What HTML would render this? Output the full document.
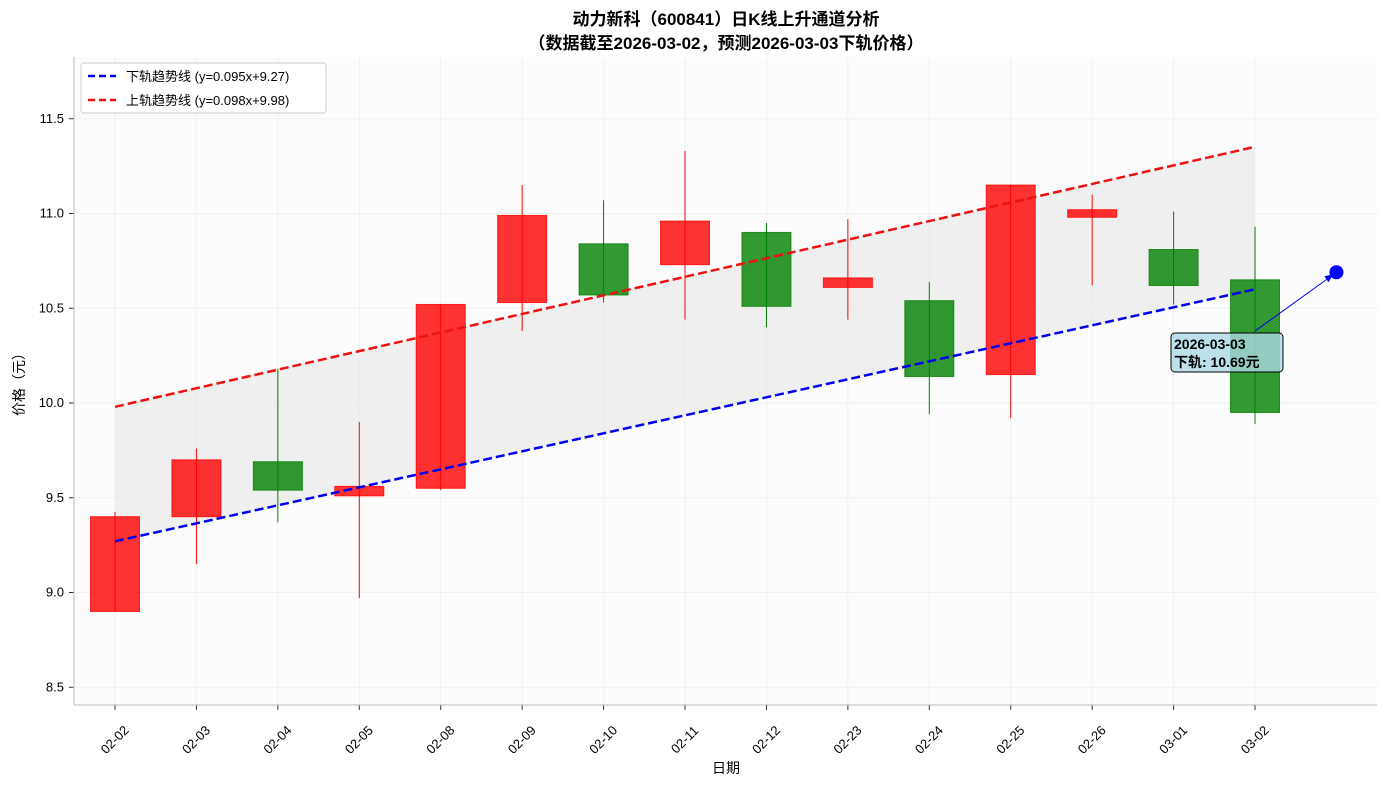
<!DOCTYPE html>
<html><head><meta charset="utf-8"><style>
body{margin:0;background:#fff;}
svg text{font-family:"Liberation Sans","Noto Sans CJK SC",sans-serif;}
</style></head><body>
<svg id="chart" width="1387" height="787" xmlns="http://www.w3.org/2000/svg">
<rect x="0" y="0" width="1387" height="787" fill="#ffffff"/>
<rect x="74" y="57" width="1303" height="648" fill="#fcfcfc"/>
<text x="726" y="25" text-anchor="middle" font-size="17" font-weight="bold">动力新科（600841）日K线上升通道分析</text>
<text x="726" y="49" text-anchor="middle" font-size="17" font-weight="bold">（数据截至2026-03-02，预测2026-03-03下轨价格）</text>
<g id="grid"></g><g id="fill"></g><g id="candles"></g><g id="lines"></g><g id="axes"></g><g id="annot"></g>
<text x="726" y="773" text-anchor="middle" font-size="14">日期</text>
<text transform="translate(24,381) rotate(-90)" text-anchor="middle" font-size="14">价格（元）</text>
<g>
<rect x="81" y="63" width="245" height="50" fill="#fff" stroke="#ccc" rx="3"/>
<line x1="88" y1="76" x2="116" y2="76" stroke="#0000ee" stroke-width="2.5" stroke-dasharray="7,4"/>
<text x="126" y="81" font-size="13">下轨趋势线 (y=0.095x+9.27)</text>
<line x1="88" y1="100" x2="116" y2="100" stroke="#ee1111" stroke-width="2.5" stroke-dasharray="7,4"/>
<text x="126" y="105" font-size="13">上轨趋势线 (y=0.098x+9.98)</text>
</g>
</svg>
<script>
const categories=["02-02","02-03","02-04","02-05","02-08","02-09","02-10","02-11","02-12","02-23","02-24","02-25","02-26","03-01","03-02"];
const opens=[9.40,9.40,9.54,9.51,9.55,10.53,10.57,10.73,10.51,10.61,10.14,10.15,10.98,10.62,10.65];
const closes=[8.90,9.70,9.69,9.56,10.52,10.99,10.84,10.96,10.90,10.66,10.54,11.15,11.02,10.81,9.95];
const highs=[9.425,9.76,10.18,9.90,10.52,11.15,11.07,11.33,10.95,10.97,10.64,11.15,11.10,11.01,10.93];
const lows=[8.90,9.15,9.37,8.97,9.54,10.38,10.53,10.44,10.40,10.44,9.94,9.92,10.62,10.52,9.89];
const upColor=[1,1,0,1,1,1,0,1,0,1,0,1,1,0,0];
const yTicks=[8.5,9.0,9.5,10.0,10.5,11.0,11.5];
const lowerSlope=0.095, lowerInt=9.27, upperSlope=0.098, upperInt=9.98;
const predValue=10.69, predLabel="2026-03-03";
const NS="http://www.w3.org/2000/svg";
const X=i=>115+i*81.43;
const Y=v=>403-(v-10)*189.5;
function mk(t,a,p){const e=document.createElementNS(NS,t);for(const k in a)e.setAttribute(k,a[k]);document.getElementById(p).appendChild(e);return e;}
yTicks.forEach(v=>{
 const g=mk('line',{x1:74,x2:1377,y1:Y(v),y2:Y(v),stroke:'#f0f0f0','stroke-width':1},'grid');
 
 
 mk('line',{x1:69,x2:74,y1:Y(v),y2:Y(v),stroke:'#333'},'axes');
 const t=mk('text',{x:64,y:Y(v)+4,'text-anchor':'end','font-size':13},'axes');t.textContent=v.toFixed(1);
 
 
});
categories.forEach((c,i)=>{
 const g=mk('line',{x1:X(i),x2:X(i),y1:57,y2:705,stroke:'#f0f0f0'},'grid');
 
 
 mk('line',{x1:X(i),x2:X(i),y1:705,y2:710,stroke:'#333'},'axes');
 const cx=X(i), cy=740;
 const t=mk('text',{x:cx,y:cy+4,'text-anchor':'middle','font-size':13,transform:`rotate(-45 ${cx} ${cy})`},'axes');t.textContent=c;
 
 
});
const ax1=mk('line',{x1:74,x2:74,y1:57,y2:705,stroke:'#bbb'},'axes');


const ax2=mk('line',{x1:74,x2:1377,y1:705,y2:705,stroke:'#bbb'},'axes');


const n=categories.length-1;
const poly=mk('polygon',{points:`${X(0)},${Y(upperInt)} ${X(n)},${Y(upperInt+upperSlope*n)} ${X(n)},${Y(lowerInt+lowerSlope*n)} ${X(0)},${Y(lowerInt)}`,fill:'#e6e6e6','fill-opacity':0.6},'fill');


categories.forEach((c,i)=>{
 const col=upColor[i]?'#ff0000':'#008000';
 const w=mk('line',{x1:X(i),x2:X(i),y1:Y(highs[i]),y2:Y(lows[i]),stroke:col,'stroke-width':1},'candles');
 
 
 const top=Math.max(opens[i],closes[i]),bot=Math.min(opens[i],closes[i]);
 const b=mk('rect',{x:X(i)-24.5,y:Y(top),width:49,height:Math.max(1,Y(bot)-Y(top)),fill:col,'fill-opacity':0.8,stroke:col,'stroke-opacity':0.8},'candles');
 
 
});
const lo=mk('line',{x1:X(0),y1:Y(lowerInt),x2:X(n),y2:Y(lowerInt+lowerSlope*n),stroke:'#0000ee','stroke-width':2.5,'stroke-dasharray':'9,4'},'lines');


const up=mk('line',{x1:X(0),y1:Y(upperInt),x2:X(n),y2:Y(upperInt+upperSlope*n),stroke:'#ee1111','stroke-width':2.5,'stroke-dasharray':'9,4'},'lines');


const px=X(n+1),py=Y(predValue);
const ar=mk('line',{x1:1255,y1:331,x2:px-4,y2:py+3,stroke:'#0000ee','stroke-width':1},'annot');


mk('polygon',{points:`${px-3},${py+2} ${px-12},${py+4} ${px-8},${py+10}`,fill:'#0000ee'},'annot');
const pt=mk('circle',{cx:px,cy:py,r:7,fill:'#0000ff'},'annot');


const bx=mk('rect',{x:1171,y:333,width:112,height:39,rx:4,fill:'#add8e6','fill-opacity':0.8,stroke:'#000'},'annot');


const t1=mk('text',{x:1174,y:349,'font-size':14,'font-weight':'bold'},'annot');t1.textContent=predLabel;


const t2=mk('text',{x:1174,y:367,'font-size':14,'font-weight':'bold'},'annot');t2.textContent='下轨: '+predValue.toFixed(2)+'元';


</script>
</body></html>
